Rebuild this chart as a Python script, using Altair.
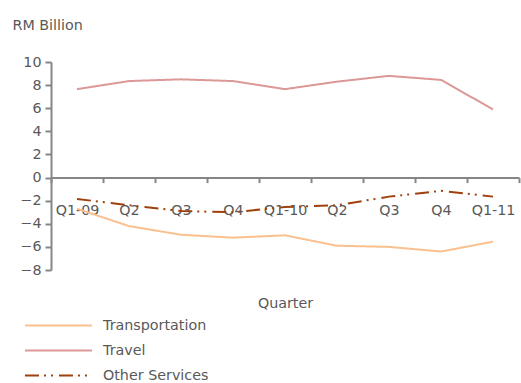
import altair as alt
import pandas as pd

quarters = ["Q1-09", "Q2", "Q3", "Q4", "Q1-10", "Q2 ", "Q3 ", "Q4 ", "Q1-11"]
transportation = [-2.7, -4.2, -4.95, -5.2, -5.0, -5.9, -6.0, -6.4, -5.55]
travel = [7.65, 8.35, 8.5, 8.35, 7.65, 8.3, 8.8, 8.45, 5.9]
other_services = [-1.85, -2.4, -2.9, -3.0, -2.55, -2.4, -1.65, -1.15, -1.65]
series_names = ["Transportation", "Travel", "Other Services"]
series_colors = ["#FAC08F", "#DB9896", "#A0400E"]

rows = []
for name, vals in zip(series_names, [transportation, travel, other_services]):
    for i, (q, v) in enumerate(zip(quarters, vals)):
        rows.append({"Quarter": q, "Value": v, "Series": name, "order": i})
df = pd.DataFrame(rows)

FONT = "DejaVu Sans"
TXT = "#595959"
AX = "#868686"
FS = 14.3

chart = alt.Chart(df).mark_line(strokeWidth=2).encode(
    x=alt.X("Quarter:N", sort=quarters,
            scale=alt.Scale(paddingInner=0, paddingOuter=0),
            axis=alt.Axis(title="Quarter", labelAngle=0, offset=-92.4,
                          tickBand="extent", tickSize=5, tickColor=AX,
                          domainColor=AX, domainWidth=2, tickWidth=2,
                          labelPadding=21, titlePadding=79,
                          labelFontSize=FS, titleFontSize=FS,
                          titleFontWeight="normal")),
    y=alt.Y("Value:Q", scale=alt.Scale(domain=[-8, 10], nice=False),
            axis=alt.Axis(values=list(range(-8, 11, 2)), grid=False,
                          tickSize=6, tickColor=AX, domainColor=AX,
                          domainWidth=2, tickWidth=2, labelPadding=4,
                          labelFontSize=FS, title="RM Billion",
                          titleAngle=0, titleX=-39, titleY=-37,
                          titleAlign="left", titleBaseline="middle",
                          titleFontSize=FS, titleFontWeight="normal")),
    color=alt.Color("Series:N", sort=series_names,
                    scale=alt.Scale(domain=series_names, range=series_colors),
                    legend=alt.Legend(title=None, orient="none",
                                      legendX=-5, legendY=251,
                                      symbolType="M-3,0H3", symbolSize=500,
                                      symbolStrokeWidth=2, labelFontSize=FS,
                                      labelOffset=32, rowPadding=5)),
    strokeDash=alt.StrokeDash("Series:N", sort=series_names,
                              scale=alt.Scale(domain=series_names,
                                              range=[[1, 0], [1, 0], [14, 5, 2, 5, 2, 6]]),
                              legend=None),
    order="order:Q",
).properties(
    width=468, height=208,
    autosize=alt.AutoSizeParams(type="none"),
    padding={"left": 51, "top": 62, "right": 2, "bottom": 113},
).configure(
    font=FONT,
).configure_view(
    stroke=None,
).configure_axis(
    labelColor=TXT, titleColor=TXT, labelFont=FONT, titleFont=FONT,
).configure_legend(
    labelColor=TXT, labelFont=FONT,
)

chart.save("out.html", embed_options={"renderer": "svg", "actions": False})
